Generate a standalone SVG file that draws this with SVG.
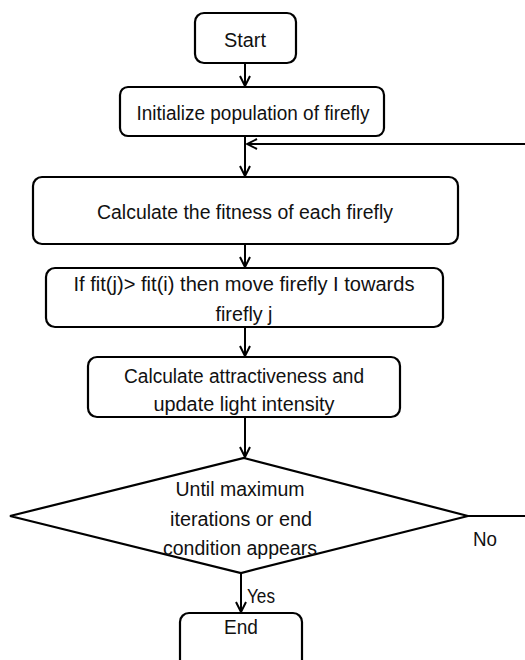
<svg xmlns="http://www.w3.org/2000/svg" width="525" height="660" viewBox="0 0 525 660">
<defs>
<style>
.box{fill:#fff;stroke:#000;stroke-width:2.2}
.t{font-family:"Liberation Sans",Arial,sans-serif;font-size:19.5px;fill:#111;text-anchor:middle}
.s{text-anchor:start}
.c{stroke:#000;stroke-width:2;fill:none}
</style>
<marker id="ah" viewBox="0 0 12 12" refX="11" refY="6" markerWidth="12" markerHeight="12" markerUnits="userSpaceOnUse" orient="auto">
<path d="M1,1 L11,6 L1,11" fill="none" stroke="#000" stroke-width="2"/>
</marker>
</defs>
<rect width="525" height="660" fill="#fff"/>
<g id="connectors">
<line class="c" x1="245" y1="63" x2="245" y2="86" marker-end="url(#ah)"/>
<line class="c" x1="245" y1="136" x2="245" y2="176" marker-end="url(#ah)"/>
<line class="c" x1="525" y1="144" x2="247" y2="144" marker-end="url(#ah)" stroke-width="2.5"/>
<line class="c" x1="245" y1="244" x2="245" y2="267" marker-end="url(#ah)"/>
<line class="c" x1="245" y1="327" x2="245" y2="356" marker-end="url(#ah)"/>
<line class="c" x1="245" y1="417" x2="245" y2="457" marker-end="url(#ah)"/>
<line class="c" x1="468" y1="516" x2="525" y2="516"/>
<line class="c" x1="241" y1="573" x2="241" y2="612" marker-end="url(#ah)"/>
<text class="t s" x="473" y="546" textLength="24" lengthAdjust="spacingAndGlyphs">No</text>
<text class="t s" x="247" y="603" textLength="28" lengthAdjust="spacingAndGlyphs">Yes</text>
</g>
<g id="start">
<rect class="box" x="195" y="13" width="101" height="50" rx="9"/>
<text class="t" x="245" y="47" textLength="42" lengthAdjust="spacingAndGlyphs">Start</text>
</g>
<g id="init">
<rect class="box" x="120" y="87" width="264" height="49" rx="8"/>
<text class="t" x="253" y="120" textLength="233" lengthAdjust="spacingAndGlyphs">Initialize population of firefly</text>
</g>
<g id="fitness">
<rect class="box" x="33" y="177" width="425" height="67" rx="9"/>
<text class="t" x="245" y="219" textLength="296" lengthAdjust="spacingAndGlyphs">Calculate the fitness of each firefly</text>
</g>
<g id="move">
<rect class="box" x="46" y="268" width="397" height="59" rx="9"/>
<text class="t" x="244" y="291" textLength="341" lengthAdjust="spacingAndGlyphs">If fit(j)&gt; fit(i) then move firefly I towards</text>
<text class="t" x="244" y="321" textLength="57" lengthAdjust="spacingAndGlyphs">firefly j</text>
</g>
<g id="attract">
<rect class="box" x="88" y="357" width="312" height="60" rx="9"/>
<text class="t" x="244" y="383" textLength="240" lengthAdjust="spacingAndGlyphs">Calculate attractiveness and</text>
<text class="t" x="244" y="411" textLength="181" lengthAdjust="spacingAndGlyphs">update light intensity</text>
</g>
<g id="decision">
<polygon points="244,458 468,516 241,573 10,516" fill="#fff" stroke="#000" stroke-width="2.2"/>
<text class="t" x="240" y="496" textLength="129" lengthAdjust="spacingAndGlyphs">Until maximum</text>
<text class="t" x="241" y="526" textLength="142" lengthAdjust="spacingAndGlyphs">iterations or end</text>
<text class="t" x="240" y="555" textLength="154" lengthAdjust="spacingAndGlyphs">condition appears</text>
</g>
<g id="end">
<rect class="box" x="180" y="613" width="122" height="60" rx="9"/>
<text class="t" x="241" y="634" textLength="34" lengthAdjust="spacingAndGlyphs">End</text>
</g>
</svg>
